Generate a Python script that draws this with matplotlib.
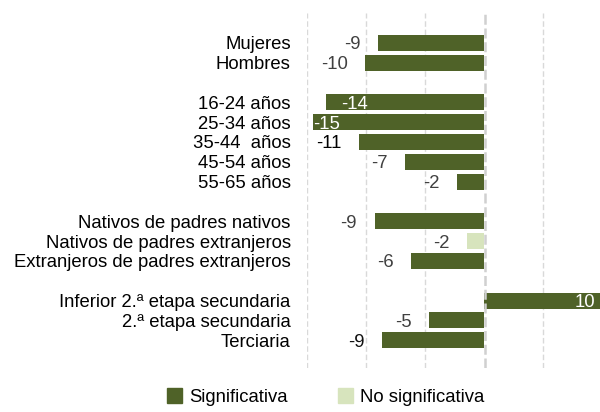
import matplotlib
matplotlib.use("Agg")
import matplotlib.pyplot as plt
from matplotlib.patches import Rectangle

plt.rcParams['font.family'] = ['Liberation Sans', 'DejaVu Sans']

# ---- data (blank strings mark group gaps) ----
categories = ["Mujeres", "Hombres", "",
              "16-24 años", "25-34 años", "35-44  años", "45-54 años", "55-65 años", "",
              "Nativos de padres nativos", "Nativos de padres extranjeros",
              "Extranjeros de padres extranjeros", "",
              "Inferior 2.ª etapa secundaria", "2.ª etapa secundaria", "Terciaria"]
values = [-9.0, -10.1, None,
          -13.4, -14.5, -10.6, -6.7, -2.3, None,
          -9.3, -1.5, -6.2, None,
          10.0, -4.7, -8.7]
value_labels = ["-9", "-10", "",
                "-14", "-15", "-11", "-7", "-2", "",
                "-9", "-2", "-6", "",
                "10", "-5", "-9"]
significant = [True, True, None,
               True, True, True, True, True, None,
               True, False, True, None,
               True, True, True]
legend_labels = ["Significativa", "No significativa"]

DARK = "#4f6228"
LIGHT = "#d7e4bd"
GRID = "#d9d9d9"
FS = 13.3

W, H = 600, 412
fig = plt.figure(figsize=(W / 100, H / 100), dpi=100)
ax_left, ax_right, ax_top, ax_bot = 307.3, 600.0, 13.0, 368.0
ax = fig.add_axes([ax_left / W, 1 - ax_bot / H, (ax_right - ax_left) / W, (ax_bot - ax_top) / H])

px_per_unit = (484.3 - 307.3) / 15.0
xmin = -15.0
xmax = (ax_right - 484.3) / px_per_unit
ax.set_xlim(xmin, xmax)
ax.set_ylim(16.4, -1.5)

ypos = list(range(len(categories)))
for y, v, sig in zip(ypos, values, significant):
    if v is None:
        continue
    ax.barh(y, v, height=0.8, color=DARK if sig else LIGHT, zorder=2)

# gridlines
for gx in [-15, -10, -5, 5]:
    ax.axvline(gx, color=GRID, lw=1, ls=(0, (4, 2)), zorder=1)
ax.axvline(0.1, color="#d0d0d0", lw=1.8, ls=(0, (4, 1.5)), zorder=3)

# value labels
inside_offsets = {"16-24 años": 15, "25-34 años": 0}
label_colors = {"35-44  años": "#000000", "Terciaria": "#111111"}
for y, v, lab, cat in zip(ypos, values, value_labels, categories):
    if v is None:
        continue
    if v > 0:
        ax.annotate(lab, xy=(xmax, y), xytext=(-5, 0), textcoords="offset pixels",
                    ha="right", va="center_baseline", color="white", fontsize=FS, zorder=4)
    elif cat in inside_offsets:
        ax.annotate(lab, xy=(v, y), xytext=(inside_offsets[cat], 0), textcoords="offset pixels",
                    ha="left", va="center_baseline", color="white", fontsize=FS, zorder=4)
    else:
        ax.annotate(lab, xy=(v, y), xytext=(-17.5, 0), textcoords="offset pixels",
                    ha="right", va="center_baseline", color=label_colors.get(cat, "#404040"),
                    fontsize=FS, zorder=4)

ax.set_yticks(ypos)
ax.set_yticklabels(categories, fontsize=FS)
ax.tick_params(axis="y", length=0, pad=12)
ax.tick_params(axis="x", length=0, labelbottom=False)
for s in ax.spines.values():
    s.set_visible(False)

# legend (manual)
leg_items = [(166.5, DARK, legend_labels[0]),
             (337.7, LIGHT, legend_labels[1])]
for x0, col, txt in leg_items:
    fig.add_artist(Rectangle((x0 / W, 1 - 403 / H), 15.5 / W, 15.5 / H,
                             transform=fig.transFigure, color=col))
    fig.text((x0 + 22.5) / W, 1 - 397 / H, txt, fontsize=FS, ha="left", va="center",
             color="#000000")

fig.savefig("out.png", dpi=100)
